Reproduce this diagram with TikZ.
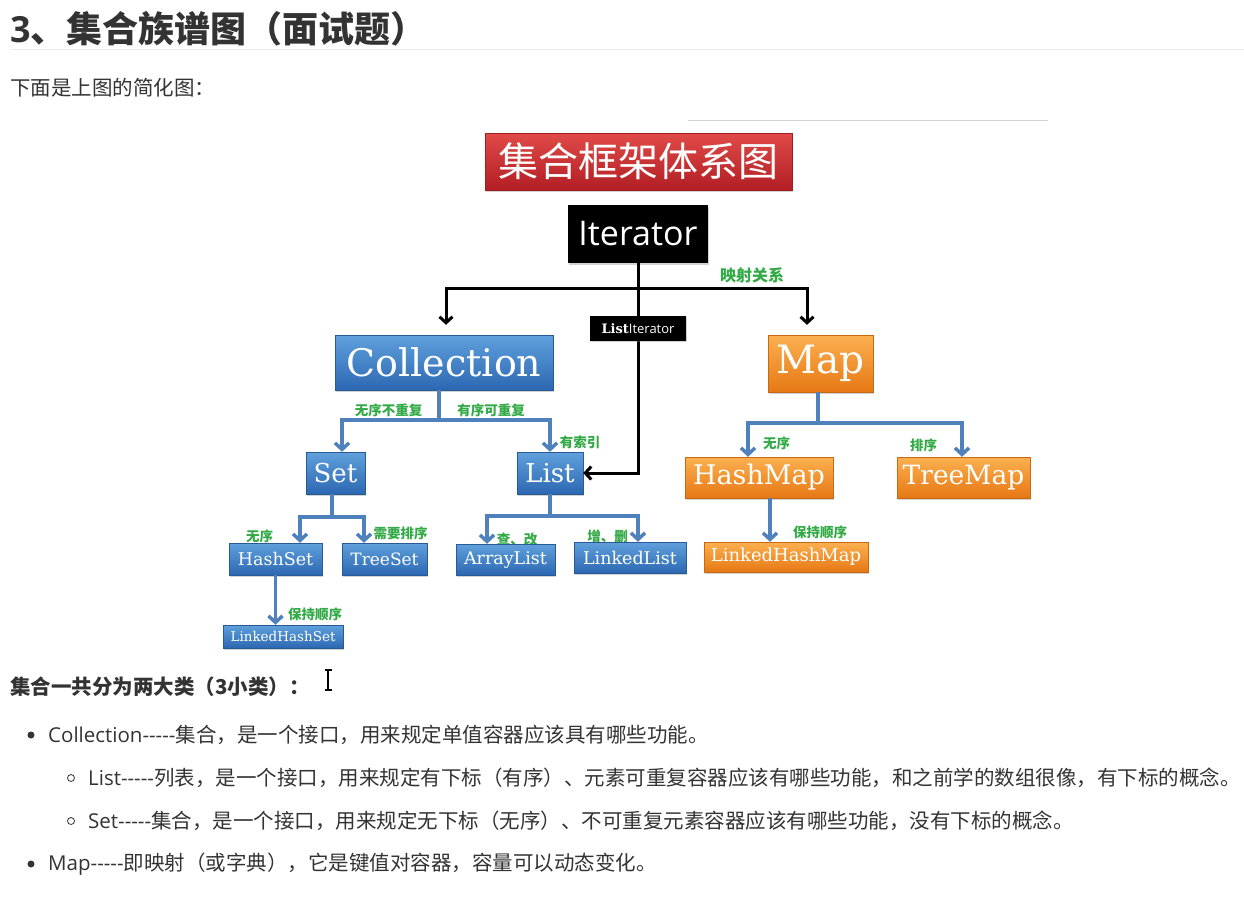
\documentclass[tikz,border=0pt]{standalone}
\usepackage{fontspec}
\setmainfont{Open Sans}[Ligatures=TeXOff]
\newfontfamily\cjk{Noto Sans CJK SC}
\newfontfamily\boxserif{DejaVu Serif}
\usepackage{tikz}
\usetikzlibrary{arrows.meta, shadows}
\definecolor{textgray}{RGB}{51,51,51}
\definecolor{rulegray}{RGB}{234,236,239}
\definecolor{tagnote}{RGB}{50,170,70}
\definecolor{blueline}{RGB}{79,129,189}
\newcommand{\fsz}[1]{\fontsize{#1}{#1}\selectfont}
\tikzstyle{shade}     = [drop shadow={opacity=.35, shadow xshift=1pt, shadow yshift=-1.5pt}]
\tikzstyle{bluebox}   = [rectangle, draw={rgb,255:red,40;green,90;blue,150}, top color={rgb,255:red,96;green,160;blue,220}, bottom color={rgb,255:red,44;green,104;blue,178}, text=white, inner sep=0pt, shade]
\tikzstyle{orangebox} = [rectangle, draw={rgb,255:red,200;green,105;blue,20}, top color={rgb,255:red,252;green,176;blue,80}, bottom color={rgb,255:red,230;green,120;blue,20}, text=white, inner sep=0pt, shade]
\tikzstyle{redbox}    = [rectangle, draw={rgb,255:red,160;green,30;blue,30}, top color={rgb,255:red,224;green,74;blue,72}, bottom color={rgb,255:red,178;green,30;blue,36}, text=white, inner sep=0pt, shade]
\tikzstyle{blackbox}  = [rectangle, fill=black, text=white, inner sep=0pt, shade]
\tikzstyle{tag}       = [text=tagnote, inner sep=0pt, font=\cjk\bfseries\fsz{13.5}]
\tikzstyle{bodytext}  = [anchor=west, inner sep=0pt, text=textgray, font=\fsz{20.5}]
\tikzstyle{dot}       = [circle, fill=textgray, minimum size=7pt, inner sep=0pt]
\tikzstyle{ring}      = [circle, draw=textgray, line width=0.8pt, minimum size=7pt, inner sep=0pt]
\tikzstyle{bline}     = [line width=3.5pt, draw=blueline]
\tikzstyle{barrow}    = [bline, -{Straight Barb[length=6.5pt,width=14pt]}]
\tikzstyle{kline}     = [line width=3pt, draw=black]
\tikzstyle{karrow}    = [kline, -{Straight Barb[length=6pt,width=13pt]}]

\begin{document}
\begin{tikzpicture}[x=1pt, y=-1pt]
    \useasboundingbox[fill=white] (0,0) rectangle (1244,902);
    % page heading
    \node (head) at (10,29) [anchor=west, inner sep=0pt, text=textgray, font=\bfseries\fsz{36}] {3\cjk 、集合族谱图（面试题）};
    \draw [rulegray, line width=1pt] (10,49) -- (1244,49);
    \node (intro) at (10,88) [bodytext, font=\cjk\fsz{20.5}] {下面是上图的简化图：};
    \draw [gray!35, line width=1pt] (688,120) -- (1048,120);

    % green notes (under the boxes)
    \node (t0)  at (752,275)   [tag, font=\cjk\bfseries\fsz{16}] {映射关系};
    \node (t1)  at (388.5,410) [tag] {无序不重复};
    \node (t2)  at (491,410)   [tag] {有序可重复};
    \node (t3)  at (580,442)   [tag] {有索引};
    \node (t4)  at (259.5,536) [tag] {无序};
    \node (t5)  at (400.5,533) [tag] {需要排序};
    \node (t6)  at (517,539)   [tag] {查、改};
    \node (t7)  at (607.5,536) [tag] {增、删};
    \node (t8)  at (315,614)   [tag] {保持顺序};
    \node (t9)  at (776.5,443) [tag] {无序};
    \node (t10) at (923.5,445) [tag] {排序};
    \node (t11) at (820,532)   [tag] {保持顺序};

    % Row 1: title and Iterator
    \node (title) at (638.5,161.5) [redbox, minimum width=307pt, minimum height=57pt, font=\cjk\fsz{40}] {集合框架体系图};
    \node (iter)  at (638,234)     [blackbox, minimum width=140pt, minimum height=58pt, font=\fsz{34}] {Iterator};
    % Row 2: Collection and Map
    \node (coll) at (444,362.5)   [bluebox, minimum width=218pt, minimum height=55pt, font=\boxserif\fsz{38}] {Collection};
    \node (map)  at (820.5,363.5) [orangebox, minimum width=105pt, minimum height=57pt, font=\boxserif\fsz{39}] {Map};
    % Row 3: Set, List, HashMap, TreeMap
    \node (set)  at (335.5,473)   [bluebox, minimum width=59pt, minimum height=42pt, font=\boxserif\fsz{26}] {Set};
    \node (list) at (550,473)     [bluebox, minimum width=66pt, minimum height=42pt, font=\boxserif\fsz{26}] {List};
    \node (hmap) at (759,477.5)   [orangebox, minimum width=148pt, minimum height=41pt, font=\boxserif\fsz{27}] {HashMap};
    \node (tmap) at (963.5,477.5) [orangebox, minimum width=133pt, minimum height=41pt, font=\boxserif\fsz{26.5}] {TreeMap};
    % Row 4: the leaves
    \node (hset)  at (275.5,559)  [bluebox, minimum width=93pt, minimum height=32pt, font=\boxserif\fsz{17.5}] {HashSet};
    \node (tset)  at (384.5,559)  [bluebox, minimum width=85pt, minimum height=32pt, font=\boxserif\fsz{17}] {TreeSet};
    \node (alist) at (505.5,559.5) [bluebox, minimum width=99pt, minimum height=31pt, font=\boxserif\fsz{17.5}] {ArrayList};
    \node (llist) at (630,557.5)  [bluebox, minimum width=112pt, minimum height=31pt, font=\boxserif\fsz{17.5}] {LinkedList};
    \node (lhmap) at (786,557)    [orangebox, minimum width=164pt, minimum height=30pt, font=\boxserif\fsz{18}] {LinkedHashMap};
    \node (lhset) at (283,636.5)  [bluebox, minimum width=120pt, minimum height=23pt, font=\boxserif\fsz{13.5}] {LinkedHashSet};

    % black links from Iterator
    \coordinate (ij) at (638,288);
    \draw [karrow] (iter) -- node (lit) [blackbox, pos=.31, minimum width=96pt, minimum height=25pt, font=\fsz{13}] {{\boxserif\bfseries List}Iterator} (iter |- list) -- (list);
    \draw [karrow] (ij) -| ([xshift=2pt,yshift=10pt]coll.north);
    \draw [karrow] (ij) -| ([xshift=-13.5pt,yshift=10pt]map.north);

    % blue links
    \coordinate (cj) at (439,420);
    \draw [bline]  (coll.south -| cj) -- (cj);
    \draw [barrow] (cj) -| ([xshift=6.5pt]set.north);
    \draw [barrow] (cj) -| (list.north);
    \coordinate (sj) at (332,517);
    \draw [bline]  (set.south -| sj) -- (sj);
    \draw [barrow] (sj) -| ([xshift=24.5pt]hset.north);
    \draw [barrow] (sj) -| ([xshift=-20.5pt]tset.north);
    \coordinate (lj) at (550,516);
    \draw [bline]  (list.south) -- (lj);
    \draw [barrow] (lj) -| ([xshift=-18.5pt]alist.north);
    \draw [barrow] (lj) -| ([xshift=8pt]llist.north);
    \draw [barrow] (hset.south) -- (hset.south |- lhset.north);
    \coordinate (mj) at (818,423);
    \draw [bline]  (map.south -| mj) -- (mj);
    \draw [barrow] (mj) -| ([xshift=-11pt]hmap.north);
    \draw [barrow] (mj) -| ([xshift=-1.5pt]tmap.north);
    \draw [barrow] ([xshift=11pt]hmap.south) -- ([xshift=11pt]hmap.south |- lhmap.north);

    % summary text
    \node (sum) at (10,687) [bodytext, font=\cjk\bfseries\fsz{20.5}] {集合一共分为两大类（3小类）：};
    \draw [black, line width=1.2pt] (324.5,670) -- (331.5,670) (328,670) -- (328,690) (324.5,690) -- (331.5,690);
    \node (b1) at (31,735) [dot] {};
    \node (l1) at (48,735) [bodytext] {Collection-----\cjk 集合，是一个接口，用来规定单值容器应该具有哪些功能。};
    \node (b2) at (71,778) [ring] {};
    \node (l2) at (88,778) [bodytext] {List-----\cjk 列表，是一个接口，用来规定有下标（有序）、元素可重复容器应该有哪些功能，和之前学的数组很像，有下标的概念。};
    \node (b3) at (71,821) [ring] {};
    \node (l3) at (88,821) [bodytext] {Set-----\cjk 集合，是一个接口，用来规定无下标（无序）、不可重复元素容器应该有哪些功能，没有下标的概念。};
    \node (b4) at (31,864) [dot] {};
    \node (l4) at (48,864) [bodytext] {Map-----\cjk 即映射（或字典），它是键值对容器，容量可以动态变化。};
\end{tikzpicture}
\end{document}
